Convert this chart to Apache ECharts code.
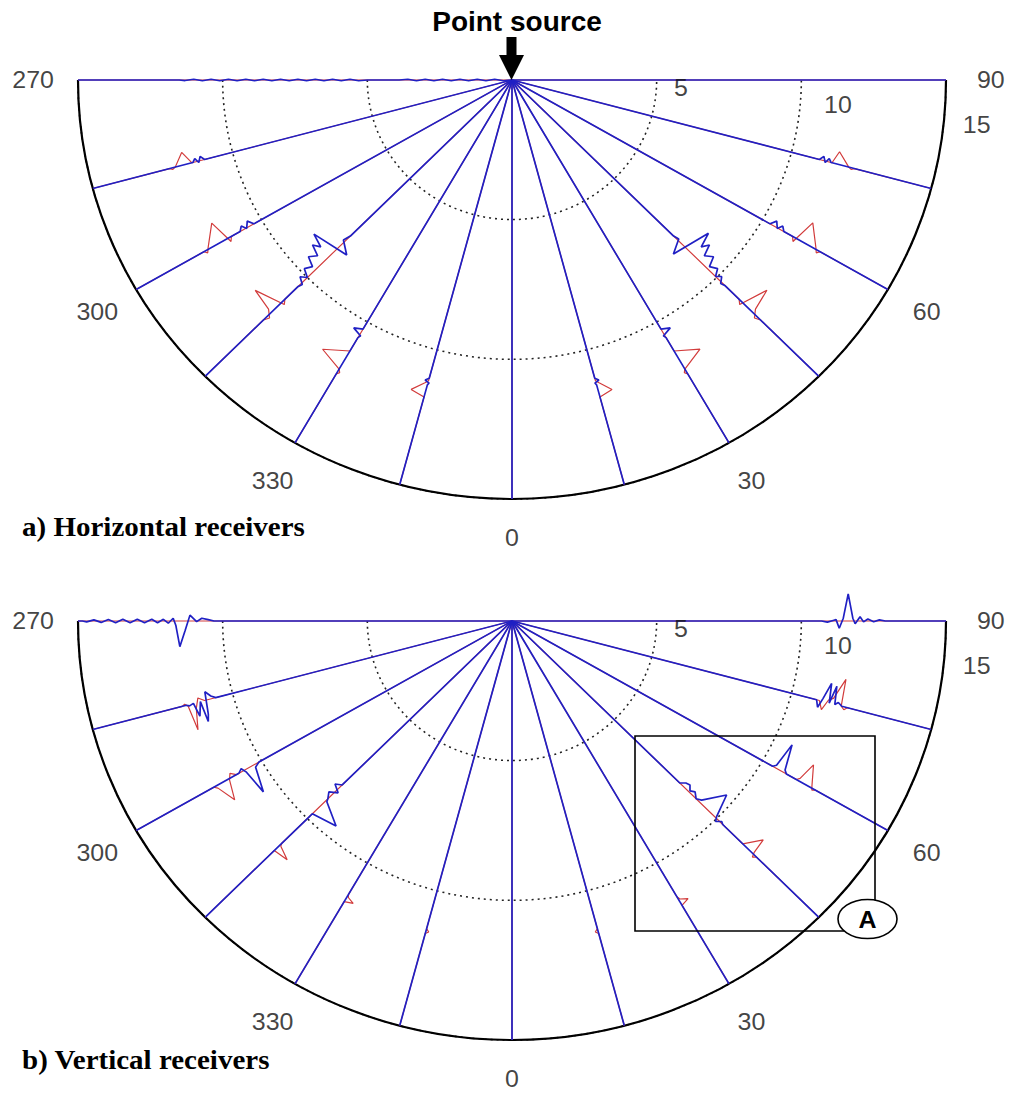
<!DOCTYPE html>
<html>
<head>
<meta charset="utf-8">
<title>Point source – horizontal and vertical receivers</title>
<script src="https://cdn.jsdelivr.net/npm/echarts@6/dist/echarts.min.js"></script>
<style>
  html, body { margin: 0; padding: 0; background: #fff; overflow: hidden; }
  #wrap { width: 1010px; height: 1094px; overflow: hidden; }
  /* the whole figure is drawn with a slight vertical compression */
  #chart { width: 1010px; height: 1133px; transform: scaleY(0.9655); transform-origin: 0 0; }
</style>
</head>
<body>
<div id="wrap"><div id="chart"></div></div>
<script>
const VSCALE = 0.9655;

// Receiver lines (degrees) and axis ticks
const lineAngles = [270, 285, 300, 315, 330, 345, 0, 15, 30, 45, 60, 75, 90];
const angleTicks = [270, 300, 330, 0, 30, 60, 90];
const ringTicks = [5, 10, 15];

// Traces: [distance along the receiver line, displacement across it], one list per line (order of lineAngles)
const horizontalRed = [
  [[0, 0], [15, 0]],
  [[0, 0], [11.45, 0], [11.7, -0.45], [12.05, 0], [12.15, 0.06], [12.25, 0], [15, 0]],
  [[0, 0], [11.2, 0], [11.3, 0.15], [11.55, -0.75], [12.1, -0.05], [12.2, 0.1], [12.3, 0], [15, 0]],
  [[0, 0], [11.1, 0], [11.25, 0.12], [11.6, -0.95], [11.75, -0.15], [11.95, 0.1], [12.15, 0], [15, 0]],
  [[0, 0], [11.2, 0], [11.62, -0.85], [11.95, 0], [12.05, 0.08], [12.15, 0], [15, 0]],
  [[0, 0], [11.15, 0], [11.25, -0.1], [11.6, -0.5], [11.75, 0], [15, 0]],
  [[0, 0], [15, 0]],
  [[0, 0], [11.15, 0], [11.25, 0.1], [11.6, 0.47], [11.75, 0], [15, 0]],
  [[0, 0], [11.2, 0], [11.59, 0.81], [11.95, 0], [12.05, -0.08], [12.15, 0], [15, 0]],
  [[0, 0], [11.1, 0], [11.25, -0.12], [11.55, 0.91], [11.75, 0.15], [11.95, -0.1], [12.15, 0], [15, 0]],
  [[0, 0], [11.2, 0], [11.3, -0.15], [11.56, 0.77], [12.1, 0.05], [12.2, -0.1], [12.3, 0], [15, 0]],
  [[0, 0], [11.45, 0], [11.6, 0.45], [12.05, 0], [12.15, -0.06], [12.25, 0], [15, 0]],
  [[0, 0], [15, 0]]
];

const horizontalBlue = [
  [[0, 0], [0.3, 0.025], [0.6, -0.025], [0.9, 0.025], [1.2, -0.025], [1.5, 0.025], [1.8, -0.025], [2.1, 0.025],
   [2.4, -0.025], [2.7, 0.025], [3.0, -0.025], [3.3, 0.025], [3.6, -0.025], [3.9, 0], [5.0, 0], [5.3, 0.025],
   [5.6, -0.025], [5.9, 0.025], [6.2, -0.025], [6.5, 0.025], [6.8, -0.025], [7.1, 0.025], [7.4, -0.025], [7.7, 0.025],
   [8.0, -0.025], [8.3, 0.025], [8.6, -0.025], [8.9, 0.025], [9.2, -0.025], [9.5, 0.025], [9.8, -0.025], [10.1, 0.025],
   [10.4, -0.025], [10.7, 0.025], [11.0, -0.025], [11.3, 0.02], [11.5, 0], [15, 0]],
  [[0, 0], [11.0, 0], [11.12, -0.15], [11.22, 0.05], [11.32, -0.12], [11.42, 0], [15, 0]],
  [[0, 0], [10.3, 0], [10.45, -0.2], [10.6, 0.02], [10.72, -0.15], [10.85, 0], [15, 0]],
  [[0, 0], [7.9, 0], [8.17, -0.07], [8.47, 0.39], [8.74, -0.94], [8.9, -0.45], [9.05, -0.7], [9.2, -0.3],
   [9.45, -0.5], [9.6, -0.15], [9.85, -0.3], [10.0, 0], [10.16, -0.2], [10.3, 0.05], [10.45, 0], [15, 0]],
  [[0, 0], [10.3, 0], [10.42, -0.3], [10.55, 0.05], [10.65, 0], [15, 0]],
  [[0, 0], [11.05, 0], [11.15, -0.12], [11.22, 0.04], [11.3, 0], [15, 0]],
  [[0, 0], [15, 0]],
  [[0, 0], [11.05, 0], [11.15, 0.12], [11.22, -0.04], [11.3, 0], [15, 0]],
  [[0, 0], [10.3, 0], [10.42, 0.3], [10.55, -0.05], [10.65, 0], [15, 0]],
  [[0, 0], [7.9, 0], [8.1, 0.05], [8.35, -0.46], [8.68, 0.92], [8.85, 0.4], [9.0, 0.65], [9.15, 0.25],
   [9.4, 0.45], [9.55, 0.1], [9.8, 0.25], [9.95, 0], [10.1, 0.15], [10.25, -0.05], [10.4, 0], [15, 0]],
  [[0, 0], [10.3, 0], [10.45, 0.2], [10.6, -0.02], [10.72, 0.15], [10.85, 0], [15, 0]],
  [[0, 0], [11.0, 0], [11.12, 0.15], [11.22, -0.05], [11.32, 0.12], [11.42, 0], [15, 0]],
  [[0, 0], [15, 0]]
];

const verticalRed = [
  [[0, 0], [15, 0]],
  [[0, 0], [11.0, 0], [11.2, -0.15], [11.35, 0.2], [11.49, 0.95], [11.6, 0.05], [11.7, -0.05], [11.8, 0], [15, 0]],
  [[0, 0], [11.0, 0], [11.17, -0.15], [11.3, 0.05], [11.5, 0.75], [11.79, 0.1], [11.9, 0], [15, 0]],
  [[0, 0], [11.25, 0], [11.35, 0.05], [11.54, 0.55], [11.62, 0], [11.7, 0], [15, 0]],
  [[0, 0], [11.3, 0], [11.4, 0.05], [11.5, 0.3], [11.6, 0], [15, 0]],
  [[0, 0], [11.4, 0], [11.5, 0.1], [11.58, 0], [15, 0]],
  [[0, 0], [15, 0]],
  [[0, 0], [11.4, 0], [11.5, -0.1], [11.58, 0], [15, 0]],
  [[0, 0], [11.4, 0], [11.52, 0.05], [11.65, 0.3], [11.75, 0], [15, 0]],
  [[0, 0], [11.2, 0], [11.28, 0], [11.68, 0.6], [11.78, 0.05], [11.85, -0.1], [11.95, 0], [15, 0]],
  [[0, 0], [11.35, 0], [11.44, 0.1], [11.6, 0.75], [11.94, 0.05], [12.0, -0.06], [12.1, 0], [15, 0]],
  [[0, 0], [11.0, 0], [11.15, -0.3], [11.3, 0.1], [11.45, 0.2], [11.69, 0.97], [11.78, 0], [11.9, -0.1], [12.0, 0], [15, 0]],
  [[0, 0], [15, 0]]
];

const verticalBlue = [
  [[0, 0], [10.3, 0], [10.5, -0.05], [10.72, -0.1], [10.9, 0.02], [11.13, -0.21], [11.3, 0.35], [11.48, 0.92],
   [11.62, 0.15], [11.71, -0.1], [11.88, 0.08], [12.05, -0.06], [12.25, 0.06], [12.45, -0.06], [12.7, 0.06],
   [12.95, -0.06], [13.2, 0.06], [13.45, -0.06], [13.7, 0.06], [13.95, -0.05], [14.2, 0.05], [14.45, -0.04],
   [14.7, 0.03], [14.85, 0], [15, 0]],
  [[0, 0], [10.6, 0], [10.75, -0.1], [10.91, -0.3], [11.0, 0.5], [11.07, 0.76], [11.15, 0.0], [11.3, 0.5],
   [11.4, 0], [11.55, 0.05], [11.65, 0], [15, 0]],
  [[0, 0], [10.1, 0], [10.29, 0.1], [10.5, 1.0], [10.66, 0.08], [10.75, -0.1], [10.9, 0], [15, 0]],
  [[0, 0], [8.3, 0], [8.45, -0.2], [8.6, 0.1], [8.8, -0.15], [9.0, 0], [9.1, 0.05], [9.49, 0.89], [9.76, 0], [9.9, 0], [15, 0]],
  [[0, 0], [15, 0]],
  [[0, 0], [15, 0]],
  [[0, 0], [15, 0]],
  [[0, 0], [15, 0]],
  [[0, 0], [15, 0]],
  [[0, 0], [8.2, 0], [8.35, 0.15], [8.5, 0.2], [8.65, 0.05], [8.8, 0.15], [9.0, 0], [9.17, 0.1], [9.65, 0.84],
   [9.95, 0.05], [10.05, -0.1], [10.2, 0.05], [10.3, 0], [15, 0]],
  [[0, 0], [10.4, 0], [10.5, 0.1], [10.6, 1.0], [10.84, 0.1], [10.95, 0], [15, 0]],
  [[0, 0], [10.9, 0], [11.0, -0.25], [11.1, 0.1], [11.25, 0.7], [11.35, 0.0], [11.45, 0.65], [11.55, 0],
   [11.65, 0.1], [11.8, 0], [15, 0]],
  [[0, 0], [10.7, 0], [10.9, -0.04], [11.1, 0.02], [11.2, 0.05], [11.31, -0.26], [11.45, 0.1], [11.62, 0.97],
   [11.78, 0.1], [11.86, -0.1], [12.03, 0.15], [12.15, -0.03], [12.3, 0.07], [12.5, -0.03], [12.7, 0.04], [12.9, 0], [15, 0]]
];

// ---- layout ----
const BLUE = '#2020c4';
const RED = '#d23c3c';
const CENTERS = [[512, 80 / VSCALE], [512, 621 / VSCALE]];
const OUTER_R = 434;
const ANGLE_LABEL_R = 16.55;      // radius (data units) of the angle labels
const BOTTOM_LABEL_R = 16.4;      // the "0" label sits a little closer, clear of the page edge
const ringLabelAt = [[5.85, 87.2], [11.3, 85.5], [16.14, 84.3]]; // [radius, angle] of ring labels
const LABEL_FONT = 'Liberation Sans, Arial, sans-serif';

// angle value on the axis: -90 (270, left) .. 0 (bottom) .. 90 (right)
const axisAngle = a => (a > 180 ? a - 360 : a);

// a trace point offset across its receiver line -> [radius, angle]
function tracePoints(angle, pts) {
  const v = axisAngle(angle);
  return pts.map(([s, a]) => [Math.hypot(s, a), v + Math.atan2(a, s) * 180 / Math.PI]);
}

// polar 0/1: visible half-plane frames; polar 2/3: full-turn systems that carry the marks
function traceSeries(polarIndex, traces, color, width, z) {
  return lineAngles.map((ang, i) => ({
    type: 'line',
    coordinateSystem: 'polar',
    polarIndex,
    data: tracePoints(ang, traces[i]),
    symbol: 'none',
    showSymbol: false,
    clip: false,
    silent: true,
    animation: false,
    lineStyle: { color, width },
    z
  }));
}

function labelSeries(polarIndex) {
  const label = {
    show: true, position: 'inside', color: '#111', fontSize: 25, lineHeight: 19, fontFamily: LABEL_FONT
  };
  return [
    {
      type: 'scatter', coordinateSystem: 'polar', polarIndex, clip: false, silent: true, animation: false,
      symbolSize: 1, itemStyle: { color: 'rgba(0,0,0,0)' },
      data: angleTicks.map(t => [t === 0 ? BOTTOM_LABEL_R : ANGLE_LABEL_R, axisAngle(t)]),
      label: Object.assign({}, label, { formatter: p => String(angleTicks[p.dataIndex]) }),
      z: 5
    },
    {
      type: 'scatter', coordinateSystem: 'polar', polarIndex, clip: false, silent: true, animation: false,
      symbolSize: 1, itemStyle: { color: 'rgba(0,0,0,0)' },
      data: ringLabelAt.map(p => p.slice()),
      label: Object.assign({}, label, { formatter: p => String(ringTicks[p.dataIndex]) }),
      z: 5
    }
  ];
}

const chart = echarts.init(document.getElementById('chart'), null, { renderer: 'svg' });

const hidden = { show: false };
const option = {
  backgroundColor: '#fff',
  animation: false,
  polar: [...CENTERS, ...CENTERS].map(c => ({ center: c, radius: OUTER_R })),
  angleAxis: [
    // visible frames: lower half only, 270 on the left, 0 at the bottom, 90 on the right
    ...[0, 1].map(i => ({
      polarIndex: i,
      type: 'value',
      min: -90,
      max: 90,
      startAngle: 180,
      endAngle: 360,
      clockwise: false,
      axisLine: { show: true, lineStyle: { color: '#000', width: 2.2 } },
      axisTick: hidden,
      axisLabel: hidden,
      splitLine: hidden
    })),
    // full turn with the same orientation, for traces reaching past the horizontal
    ...[2, 3].map(i => ({
      polarIndex: i,
      type: 'value',
      min: -180,
      max: 180,
      startAngle: 90,
      clockwise: false,
      axisLine: hidden,
      axisTick: hidden,
      axisLabel: hidden,
      splitLine: hidden
    }))
  ],
  radiusAxis: [0, 1, 2, 3].map(i => ({
    polarIndex: i,
    type: 'value',
    min: 0,
    max: 15,
    interval: 5,
    axisLine: hidden,
    axisTick: hidden,
    axisLabel: hidden,
    splitLine: i < 2
      ? { show: true, lineStyle: { color: '#222', type: [2, 4], width: 1.6 } }
      : hidden
  })),
  series: [
    ...traceSeries(2, horizontalRed, RED, 1.2, 2),
    ...traceSeries(2, horizontalBlue, BLUE, 1.7, 3),
    ...traceSeries(3, verticalRed, RED, 1.2, 2),
    ...traceSeries(3, verticalBlue, BLUE, 1.7, 3),
    ...labelSeries(2),
    ...labelSeries(3)
  ],
  graphic: [
    {
      type: 'text', x: 517, y: 22 / VSCALE, z: 100,
      style: { text: 'Point source', fill: '#000', font: 'bold 28px ' + LABEL_FONT, align: 'center', verticalAlign: 'middle' }
    },
    {
      type: 'polygon', z: 100,
      shape: {
        points: [[506.5, 37], [516.5, 37], [516.5, 55], [524, 55], [511.5, 80], [499, 55], [506.5, 55]]
          .map(([x, y]) => [x, y / VSCALE])
      },
      style: { fill: '#000' }
    },
    {
      type: 'text', x: 22, y: 527 / VSCALE, z: 100,
      style: { text: 'a) Horizontal receivers', fill: '#000', font: 'bold 29px "Liberation Serif", "Times New Roman", serif', align: 'left', verticalAlign: 'middle' }
    },
    {
      type: 'text', x: 22, y: 1060 / VSCALE, z: 100,
      style: { text: 'b) Vertical receivers', fill: '#000', font: 'bold 29px "Liberation Serif", "Times New Roman", serif', align: 'left', verticalAlign: 'middle' }
    },
    {
      type: 'rect', z: 100,
      shape: { x: 635, y: 736 / VSCALE, width: 240, height: (931 - 736) / VSCALE },
      style: { fill: 'none', stroke: '#000', lineWidth: 1.6 }
    },
    {
      type: 'ellipse', z: 101,
      shape: { cx: 867.5, cy: 919 / VSCALE, rx: 29.5, ry: 19.5 / VSCALE },
      style: { fill: '#fff', stroke: '#000', lineWidth: 1.6 }
    },
    {
      type: 'text', x: 867.5, y: 920 / VSCALE, z: 102,
      style: { text: 'A', fill: '#000', font: 'bold 25px ' + LABEL_FONT, align: 'center', verticalAlign: 'middle' }
    }
  ]
};

chart.setOption(option);
</script>
</body>
</html>
